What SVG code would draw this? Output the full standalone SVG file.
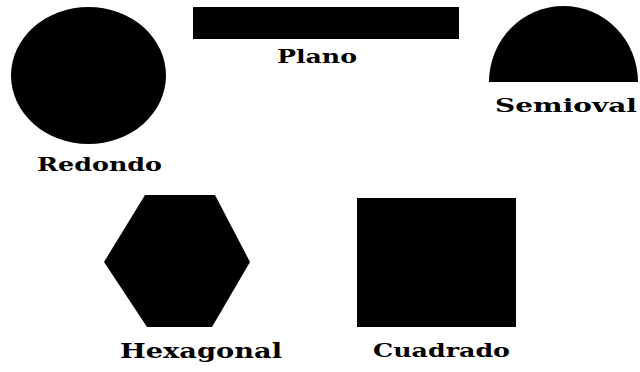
<svg xmlns="http://www.w3.org/2000/svg" width="640" height="372" viewBox="0 0 640 372">
<style>
.shape{fill:#000}
.lbl{font-family:"DejaVu Serif","Liberation Serif",serif;font-weight:bold;fill:#000;text-anchor:start}
</style>
<rect width="640" height="372" fill="#fff"/>
<g id="redondo">
<ellipse class="shape" cx="88.5" cy="75.5" rx="77.5" ry="68.5"/>
<text class="lbl" x="37" y="171" font-size="18" textLength="125" lengthAdjust="spacingAndGlyphs">Redondo</text>
</g>
<g id="plano">
<rect class="shape" x="193" y="7" width="266" height="32"/>
<text class="lbl" x="277" y="63" font-size="18" textLength="80" lengthAdjust="spacingAndGlyphs">Plano</text>
</g>
<g id="semioval">
<path class="shape" d="M489,82 A74.5,76 0 0 1 638,82 Z"/>
<text class="lbl" x="495" y="112" font-size="18" textLength="142" lengthAdjust="spacingAndGlyphs">Semioval</text>
</g>
<g id="hexagonal">
<polygon class="shape" points="145,195 215,195 250,262 212,327 147,327 104,262"/>
<text class="lbl" x="120" y="358" font-size="20" textLength="162" lengthAdjust="spacingAndGlyphs">Hexagonal</text>
</g>
<g id="cuadrado">
<rect class="shape" x="357" y="198" width="159" height="129"/>
<text class="lbl" x="373" y="357" font-size="19" textLength="137" lengthAdjust="spacingAndGlyphs">Cuadrado</text>
</g>
<g id="connectors"/>
</svg>
